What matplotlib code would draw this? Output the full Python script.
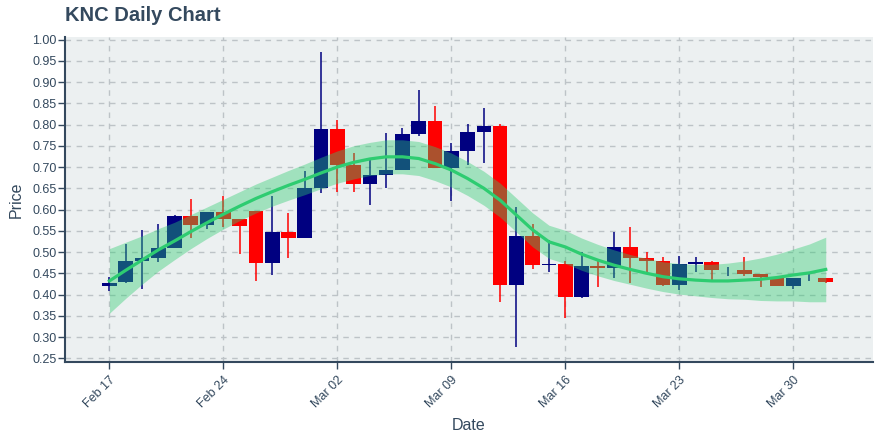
"""
KNC daily candlestick chart with a smoothed trend line and band.
"""

import pandas as pd
import matplotlib.pyplot as plt
import matplotlib.dates as mdates

dates = pd.date_range('2020-02-17', '2020-04-01', freq='D')

opens = [0.421, 0.430, 0.479, 0.486, 0.509, 0.584, 0.563, 0.594, 0.577, 0.596,
         0.475, 0.547, 0.534, 0.650, 0.789, 0.704, 0.660, 0.682, 0.694, 0.777,
         0.809, 0.698, 0.737, 0.782, 0.796, 0.422, 0.537, 0.469, 0.471, 0.395,
         0.467, 0.463, 0.512, 0.486, 0.479, 0.422, 0.472, 0.476, 0.457, 0.458,
         0.449, 0.442, 0.421, 0.439, 0.440]
closes = [0.428, 0.479, 0.486, 0.509, 0.584, 0.563, 0.594, 0.577, 0.562, 0.475,
          0.547, 0.534, 0.650, 0.789, 0.704, 0.660, 0.682, 0.694, 0.777, 0.809,
          0.698, 0.737, 0.782, 0.796, 0.422, 0.537, 0.469, 0.471, 0.395, 0.467,
          0.463, 0.512, 0.486, 0.479, 0.422, 0.472, 0.476, 0.457, 0.457, 0.449,
          0.442, 0.421, 0.439, 0.439, 0.430]
highs = [0.442, 0.519, 0.553, 0.567, 0.588, 0.624, 0.594, 0.632, 0.577, 0.596,
         0.633, 0.592, 0.690, 0.970, 0.810, 0.734, 0.718, 0.780, 0.791, 0.881,
         0.843, 0.757, 0.801, 0.840, 0.802, 0.606, 0.566, 0.528, 0.479, 0.499,
         0.481, 0.548, 0.559, 0.501, 0.489, 0.490, 0.488, 0.479, 0.465, 0.489,
         0.449, 0.443, 0.439, 0.450, 0.440]
lows = [0.408, 0.428, 0.414, 0.476, 0.509, 0.532, 0.555, 0.559, 0.495, 0.432,
        0.445, 0.486, 0.533, 0.639, 0.642, 0.642, 0.611, 0.650, 0.694, 0.773,
        0.698, 0.621, 0.704, 0.710, 0.383, 0.276, 0.460, 0.454, 0.344, 0.391,
        0.418, 0.439, 0.428, 0.453, 0.420, 0.410, 0.454, 0.435, 0.443, 0.443,
        0.418, 0.421, 0.414, 0.432, 0.426]

# smoothed trend and half-width of its band
trend = [0.432, 0.457, 0.481, 0.505, 0.526, 0.548, 0.569, 0.589, 0.608, 0.626,
         0.642, 0.657, 0.671, 0.686, 0.700, 0.711, 0.719, 0.724, 0.724, 0.720,
         0.708, 0.693, 0.673, 0.650, 0.622, 0.587, 0.552, 0.524, 0.512, 0.495,
         0.481, 0.469, 0.459, 0.450, 0.442, 0.437, 0.434, 0.432, 0.432, 0.434,
         0.436, 0.440, 0.446, 0.451, 0.459]
band = [0.076, 0.066, 0.057, 0.050, 0.044, 0.040, 0.037, 0.035, 0.034, 0.034,
        0.034, 0.035, 0.036, 0.037, 0.038, 0.039, 0.039, 0.040, 0.040, 0.040,
        0.040, 0.040, 0.040, 0.040, 0.040, 0.040, 0.040, 0.039, 0.039, 0.038,
        0.037, 0.036, 0.035, 0.035, 0.035, 0.036, 0.037, 0.039, 0.042, 0.045,
        0.050, 0.055, 0.061, 0.068, 0.076]

UP = '#000080'
DOWN = '#ff0000'
GREEN = '#2ecc71'
TEXT = '#34495e'

plt.rcParams['font.family'] = ['Liberation Sans', 'DejaVu Sans']

fig = plt.figure(figsize=(8.8, 4.4), dpi=100)
ax = fig.add_axes([0.074, 0.177, 0.918, 0.739])
ax.set_facecolor('#ecf0f1')

x = mdates.date2num(dates)
for xi, o, c, h, l in zip(x, opens, closes, highs, lows):
    col = UP if c >= o else DOWN
    ax.vlines(xi, l, h, color=col, linewidth=1.1, zorder=2)
    ax.bar(xi, abs(c - o), bottom=min(o, c), width=0.9, color=col,
           linewidth=0, zorder=2)

lower = [t - b for t, b in zip(trend, band)]
upper = [t + b for t, b in zip(trend, band)]
ax.fill_between(x, lower, upper, color=GREEN, alpha=0.4, linewidth=0,
                zorder=3)
ax.plot(x, trend, color=GREEN, linewidth=2.3, zorder=4)

ax.set_xlim(x[0] - 2.72, x[0] + 46.9)
ax.set_ylim(0.241, 1.006)
ax.set_yticks([0.25 + 0.05 * i for i in range(16)])
ax.yaxis.set_major_formatter(plt.FormatStrFormatter('%.2f'))
ax.set_xticks(x[::7])
ax.xaxis.set_major_formatter(mdates.DateFormatter('%b %d'))

ax.grid(True, color='#bdc3c7', linestyle=(0, (4, 4)), linewidth=1,
        zorder=0)
ax.set_axisbelow(True)
for side in ['top', 'right']:
    ax.spines[side].set_visible(False)
for side in ['left', 'bottom']:
    ax.spines[side].set_color(TEXT)
    ax.spines[side].set_linewidth(1.5)

ax.tick_params(axis='both', colors=TEXT, labelsize=9, length=5,
               width=1)
ax.tick_params(axis='y', pad=1)
plt.setp(ax.get_xticklabels(), rotation=45, ha='right',
         rotation_mode='anchor')
ax.set_xlabel('Date', color=TEXT, fontsize=11.5, labelpad=6)
ax.set_ylabel('Price', color=TEXT, fontsize=11.5, labelpad=6)
fig.text(0.074, 0.965, 'KNC Daily Chart', color=TEXT, fontsize=14.5,
         fontweight='bold', va='center', ha='left')

fig.savefig('out.png', dpi=100)
